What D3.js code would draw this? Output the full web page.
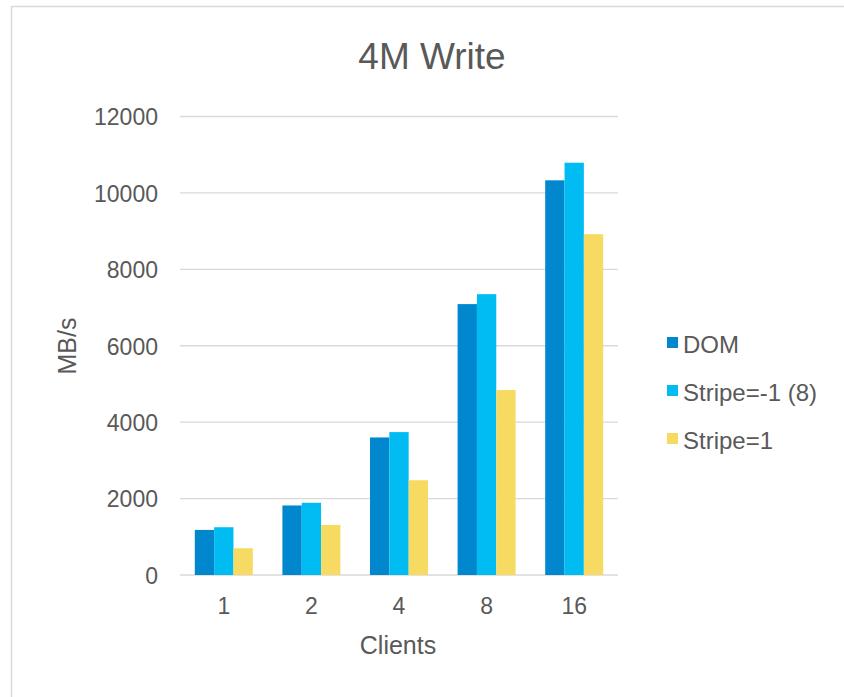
<!DOCTYPE html>
<html>
<head>
<meta charset="utf-8">
<script src="https://cdn.jsdelivr.net/npm/d3@7"></script>
<style>
  html, body { margin: 0; padding: 0; background: #fff; }
  svg text { font-family: "Liberation Sans", Arial, sans-serif; fill: #595959; }
</style>
</head>
<body>
<svg id="chart" width="844" height="697"></svg>
<script>
// Client counts on the x axis
const clients = ["1", "2", "4", "8", "16"];
// Write throughput (MB/s) per configuration
const seriesNames = ["DOM", "Stripe=-1 (8)", "Stripe=1"];
const domValues = [1180, 1820, 3600, 7090, 10330];
const stripeAllValues = [1250, 1890, 3740, 7350, 10790];
const stripeOneValues = [700, 1310, 2480, 4840, 8920];
const seriesColors = ["#0087CD", "#00BCF2", "#F6DA62"];
const yTicks = [0, 2000, 4000, 6000, 8000, 10000, 12000];

const seriesValues = [domValues, stripeAllValues, stripeOneValues];
const svg = d3.select("#chart");

// Outer frame
svg.append("rect")
  .attr("x", 11.5).attr("y", 6.5)
  .attr("width", 900).attr("height", 800)
  .attr("fill", "none").attr("stroke", "#d9d9d9").attr("stroke-width", 1.5);

const plot = { left: 180, right: 618, top: 116.5, bottom: 575 };

const x0 = d3.scaleBand().domain(clients).range([plot.left, plot.right]).paddingInner(0.338).paddingOuter(0.169);
const x1 = d3.scaleBand().domain(seriesNames).range([0, x0.bandwidth()]);
const y = d3.scaleLinear().domain([0, 12000]).range([plot.bottom, plot.top]);

// Gridlines
svg.append("g").selectAll("line").data(yTicks).join("line")
  .attr("x1", plot.left).attr("x2", plot.right)
  .attr("y1", d => y(d)).attr("y2", d => y(d))
  .attr("stroke", "#d9d9d9").attr("stroke-width", 1.3);

// Y axis tick labels
const yAxis = d3.axisLeft(y).tickValues(yTicks).tickSize(0).tickPadding(0).tickFormat(d3.format("d"));
const gy = svg.append("g").attr("transform", `translate(${plot.left - 22},0)`).call(yAxis);
gy.select(".domain").remove();
gy.selectAll("text").attr("font-size", 23).attr("dy", "0.36em").style("font-family", null).attr("fill", "#595959");

// Bars
const groups = svg.append("g").selectAll("g").data(clients).join("g")
  .attr("transform", d => `translate(${x0(d)},0)`);
groups.selectAll("rect")
  .data((c, i) => seriesNames.map((s, j) => ({ s, v: seriesValues[j][i], j })))
  .join("rect")
  .attr("x", d => x1(d.s))
  .attr("width", x1.bandwidth())
  .attr("y", d => y(d.v))
  .attr("height", d => y(0) - y(d.v))
  .attr("fill", d => seriesColors[d.j]);

// X axis tick labels
const xAxis = d3.axisBottom(x0).tickSize(0).tickPadding(0);
const gx = svg.append("g").attr("transform", `translate(0,${plot.bottom + 39})`).call(xAxis);
gx.select(".domain").remove();
gx.selectAll("text").attr("font-size", 23).attr("dy", 0).style("font-family", null).attr("fill", "#595959");

// Title
svg.append("text").attr("x", 432).attr("y", 69).attr("text-anchor", "middle")
  .attr("font-size", 37).text("4M Write");

// Axis titles
svg.append("text").attr("x", 398).attr("y", 654).attr("text-anchor", "middle")
  .attr("font-size", 25).text("Clients");
svg.append("text").attr("transform", "translate(76,346) rotate(-90)").attr("text-anchor", "middle")
  .attr("font-size", 25).text("MB/s");

// Legend
const legend = svg.append("g").selectAll("g").data(seriesNames).join("g")
  .attr("transform", (d, i) => `translate(667,${337 + i * 48})`);
legend.append("rect").attr("width", 11).attr("height", 11).attr("fill", (d, i) => seriesColors[i]);
legend.append("text").attr("x", 16).attr("y", 16).attr("font-size", 24).text(d => d);
</script>
</body>
</html>
